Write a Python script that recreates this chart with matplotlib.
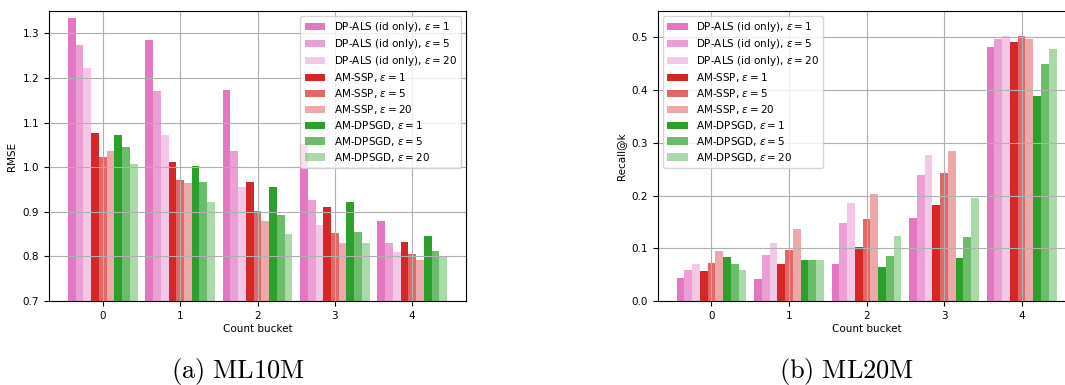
import matplotlib
matplotlib.use("Agg")
import matplotlib.pyplot as plt
import numpy as np

plt.rcParams["mathtext.fontset"] = "dejavusans"

buckets = [0, 1, 2, 3, 4]
methods = ["DP-ALS (id only)", "AM-SSP", "AM-DPSGD"]
epsilons = [1, 5, 20]
method_colors = ["tab:pink", "tab:red", "tab:green"]
eps_alpha = [1.0, 0.7, 0.4]

# RMSE on ML10M, per bucket
rmse_als_1 = [1.335, 1.285, 1.173, 1.053, 0.879]
rmse_als_5 = [1.274, 1.171, 1.036, 0.926, 0.830]
rmse_als_20 = [1.222, 1.072, 0.956, 0.870, 0.810]
rmse_ssp_1 = [1.077, 1.012, 0.967, 0.911, 0.832]
rmse_ssp_5 = [1.023, 0.971, 0.902, 0.852, 0.805]
rmse_ssp_20 = [1.036, 0.965, 0.879, 0.830, 0.792]
rmse_sgd_1 = [1.072, 1.003, 0.956, 0.922, 0.846]
rmse_sgd_5 = [1.045, 0.967, 0.893, 0.855, 0.812]
rmse_sgd_20 = [1.007, 0.922, 0.850, 0.830, 0.801]

# Recall@k on ML20M, per bucket
rec_als_1 = [0.044, 0.042, 0.070, 0.157, 0.482]
rec_als_5 = [0.059, 0.087, 0.148, 0.239, 0.497]
rec_als_20 = [0.070, 0.110, 0.186, 0.277, 0.503]
rec_ssp_1 = [0.057, 0.070, 0.102, 0.182, 0.491]
rec_ssp_5 = [0.072, 0.097, 0.156, 0.243, 0.503]
rec_ssp_20 = [0.095, 0.137, 0.203, 0.285, 0.497]
rec_sgd_1 = [0.083, 0.078, 0.065, 0.082, 0.389]
rec_sgd_5 = [0.070, 0.078, 0.085, 0.121, 0.449]
rec_sgd_20 = [0.059, 0.078, 0.123, 0.195, 0.478]

rmse = [[rmse_als_1, rmse_als_5, rmse_als_20],
        [rmse_ssp_1, rmse_ssp_5, rmse_ssp_20],
        [rmse_sgd_1, rmse_sgd_5, rmse_sgd_20]]
recall = [[rec_als_1, rec_als_5, rec_als_20],
          [rec_ssp_1, rec_ssp_5, rec_ssp_20],
          [rec_sgd_1, rec_sgd_5, rec_sgd_20]]


def draw(ax, data, ylabel):
    x = np.array(buckets)
    w = 0.1
    k = 0
    for m, name in enumerate(methods):
        for e, eps in enumerate(epsilons):
            ax.bar(x - 0.4 + k * w, data[m][e], width=w, color=method_colors[m],
                   alpha=eps_alpha[e], label=r"%s, $\varepsilon = %d$" % (name, eps))
            k += 1
    ax.grid(True)
    ax.set_xticks(buckets)
    ax.set_xlabel("Count bucket", fontsize=7.5, labelpad=2)
    ax.set_ylabel(ylabel, fontsize=7.5)
    ax.tick_params(labelsize=7.5)


fig = plt.figure(figsize=(10.65, 3.85), dpi=100)
ax1 = fig.add_axes([49 / 1065, 84 / 385, 417 / 1065, 290 / 385])
ax2 = fig.add_axes([657.5 / 1065, 84 / 385, 418 / 1065, 290 / 385])

draw(ax1, rmse, "RMSE")
ax1.set_ylim(0.7, 1.35)
ax1.legend(loc="upper right", fontsize=7.5, handlelength=2.0, labelspacing=0.28)

draw(ax2, recall, "Recall@k")
ax2.set_ylim(0, 0.55)
ax2.legend(loc="upper left", fontsize=7.5, handlelength=2.0, labelspacing=0.28)

fig.text(238 / 1065, 0.035, r"$\mathrm{(a)\ ML10M}$", ha="center", va="center",
         fontsize=19, math_fontfamily="cm")
fig.text(847 / 1065, 0.035, r"$\mathrm{(b)\ ML20M}$", ha="center", va="center",
         fontsize=19, math_fontfamily="cm")

fig.savefig("out.png", dpi=100)
